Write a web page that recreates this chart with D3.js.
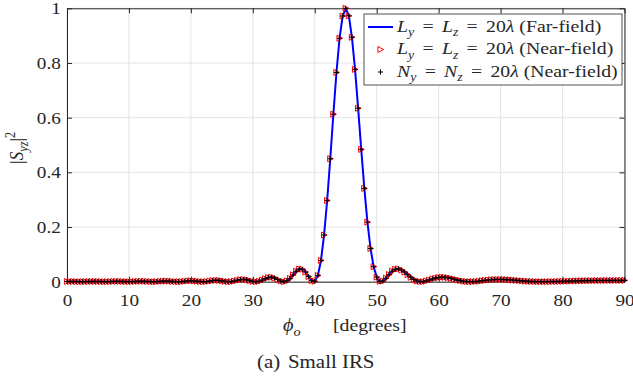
<!DOCTYPE html>
<html>
<head>
<meta charset="utf-8">
<script src="https://cdn.jsdelivr.net/npm/d3@7"></script>
<style>
  html, body { margin: 0; background: #fff; }
  svg { display: block; }
  svg text { font-family: "Liberation Serif", "Times New Roman", serif; fill: #262626; }
</style>
</head>
<body>
<svg id="chart" width="633" height="384"></svg>
<script>
// angle of the observation direction, degrees (sample points of the curves)
const phi = [
  0, 0.5, 1, 1.5, 2, 2.5, 3, 3.5, 4, 4.5, 5, 5.5, 6, 6.5, 7, 7.5, 8, 8.5, 9, 9.5,
  10, 10.5, 11, 11.5, 12, 12.5, 13, 13.5, 14, 14.5, 15, 15.5, 16, 16.5, 17, 17.5, 18, 18.5, 19, 19.5,
  20, 20.5, 21, 21.5, 22, 22.5, 23, 23.5, 24, 24.5, 25, 25.5, 26, 26.5, 27, 27.5, 28, 28.5, 29, 29.5,
  30, 30.5, 31, 31.5, 32, 32.5, 33, 33.5, 34, 34.5, 35, 35.5, 36, 36.5, 37, 37.5, 38, 38.5, 39, 39.5,
  40, 40.5, 41, 41.5, 42, 42.5, 43, 43.5, 44, 44.5, 45, 45.5, 46, 46.5, 47, 47.5, 48, 48.5, 49, 49.5,
  50, 50.5, 51, 51.5, 52, 52.5, 53, 53.5, 54, 54.5, 55, 55.5, 56, 56.5, 57, 57.5, 58, 58.5, 59, 59.5,
  60, 60.5, 61, 61.5, 62, 62.5, 63, 63.5, 64, 64.5, 65, 65.5, 66, 66.5, 67, 67.5, 68, 68.5, 69, 69.5,
  70, 70.5, 71, 71.5, 72, 72.5, 73, 73.5, 74, 74.5, 75, 75.5, 76, 76.5, 77, 77.5, 78, 78.5, 79, 79.5,
  80, 80.5, 81, 81.5, 82, 82.5, 83, 83.5, 84, 84.5, 85, 85.5, 86, 86.5, 87, 87.5, 88, 88.5, 89, 89.5,
  90
];

// |S_yz|^2, L_y = L_z = 20 lambda, far-field
const farField = [
  0.0008, 0.0009, 0.0007, 0.0004, 0.0001, 0.0000, 0.0003, 0.0007, 0.0011, 0.0011,
  0.0008, 0.0003, 0.0000, 0.0001, 0.0005, 0.0011, 0.0014, 0.0013, 0.0008, 0.0003,
  0.0000, 0.0003, 0.0009, 0.0015, 0.0018, 0.0015, 0.0009, 0.0002, 0.0000, 0.0004,
  0.0013, 0.0021, 0.0024, 0.0020, 0.0011, 0.0002, 0.0000, 0.0006, 0.0018, 0.0029,
  0.0034, 0.0028, 0.0016, 0.0004, 0.0000, 0.0007, 0.0023, 0.0040, 0.0050, 0.0046,
  0.0031, 0.0012, 0.0001, 0.0005, 0.0025, 0.0053, 0.0077, 0.0083, 0.0069, 0.0040,
  0.0012, 0.0000, 0.0016, 0.0058, 0.0111, 0.0153, 0.0164, 0.0137, 0.0083, 0.0026,
  0.0000, 0.0029, 0.0119, 0.0251, 0.0382, 0.0463, 0.0456, 0.0352, 0.0187, 0.0038,
  0.0013, 0.0229, 0.0777, 0.1706, 0.2970, 0.4497, 0.6125, 0.7653, 0.8904, 0.9718,
  1.0000, 0.9725, 0.8940, 0.7766, 0.6342, 0.4838, 0.3412, 0.2179, 0.1216, 0.0550,
  0.0165, 0.0011, 0.0023, 0.0129, 0.0265, 0.0385, 0.0456, 0.0470, 0.0430, 0.0352,
  0.0255, 0.0159, 0.0079, 0.0026, 0.0002, 0.0005, 0.0028, 0.0063, 0.0101, 0.0133,
  0.0156, 0.0165, 0.0160, 0.0144, 0.0120, 0.0092, 0.0063, 0.0038, 0.0018, 0.0005,
  0.0000, 0.0002, 0.0009, 0.0021, 0.0034, 0.0048, 0.0061, 0.0072, 0.0079, 0.0083,
  0.0083, 0.0080, 0.0075, 0.0067, 0.0058, 0.0049, 0.0039, 0.0030, 0.0022, 0.0014,
  0.0009, 0.0005, 0.0002, 0.0000, 0.0000, 0.0001, 0.0003, 0.0005, 0.0008, 0.0011,
  0.0014, 0.0018, 0.0021, 0.0025, 0.0028, 0.0030, 0.0033, 0.0035, 0.0037, 0.0039,
  0.0041, 0.0042, 0.0043, 0.0044, 0.0045, 0.0046, 0.0046, 0.0047, 0.0047, 0.0047,
  0.0047
];

// the two near-field runs lie on the far-field curve at every sample
const nearFieldL = farField;
const nearFieldN = farField;

const xTicks = [0, 10, 20, 30, 40, 50, 60, 70, 80, 90];
const yTicks = [0, 0.2, 0.4, 0.6, 0.8, 1];
const yTickLabels = ['0', '0.2', '0.4', '0.6', '0.8', '1'];

const legendRows = [
  [['L', 'i'], ['y', 'sub'], ['=', 'op'], ['L', 'i'], ['z', 'sub'], ['=', 'op'], ['20', 'after'], ['λ', 'i'], [' (Far-field)']],
  [['L', 'i'], ['y', 'sub'], ['=', 'op'], ['L', 'i'], ['z', 'sub'], ['=', 'op'], ['20', 'after'], ['λ', 'i'], [' (Near-field)']],
  [['N', 'i'], ['y', 'sub'], ['=', 'op'], ['N', 'i'], ['z', 'sub'], ['=', 'op'], ['20', 'after'], ['λ', 'i'], [' (Near-field)']],
];

const sx = 1.13; // glyphs in the picture are a little wide
const axisColor = '#262626';

const svg = d3.select('#chart');
svg.append('rect').attr('width', 633).attr('height', 384).attr('fill', '#fff');

const area = { left: 67, right: 624.5, top: 8.3, bottom: 281.7 };

const xScale = d3.scaleLinear().domain([0, 90]).range([area.left, area.right]);
const yScale = d3.scaleLinear().domain([0, 1]).range([area.bottom, area.top]);

// grid
const grid = svg.append('g').attr('stroke', '#e4e4e4').attr('stroke-width', 1);
grid.selectAll('.gx')
  .data(xTicks)
  .join('line')
  .attr('x1', (d) => xScale(d))
  .attr('x2', (d) => xScale(d))
  .attr('y1', area.top)
  .attr('y2', area.bottom);
grid.selectAll('.gy')
  .data(yTicks)
  .join('line')
  .attr('x1', area.left)
  .attr('x2', area.right)
  .attr('y1', (d) => yScale(d))
  .attr('y2', (d) => yScale(d));

// axes, ticks pointing inward
const xAxis = svg.append('g')
  .attr('transform', `translate(0, ${area.bottom})`)
  .call(d3.axisBottom(xScale).tickValues(xTicks).tickSizeInner(-5).tickSizeOuter(0).tickPadding(12.5));
const yAxis = svg.append('g')
  .attr('transform', `translate(${area.left}, 0)`)
  .call(d3.axisLeft(yScale).tickValues(yTicks).tickSizeInner(-5).tickSizeOuter(0).tickPadding(5.5)
    .tickFormat((d, i) => yTickLabels[i]));
svg.append('g')
  .attr('transform', `translate(0, ${area.top})`)
  .call(d3.axisTop(xScale).tickValues(xTicks).tickSizeInner(-5).tickSizeOuter(0).tickFormat(''));
svg.append('g')
  .attr('transform', `translate(${area.right}, 0)`)
  .call(d3.axisRight(yScale).tickValues(yTicks).tickSizeInner(-5).tickSizeOuter(0).tickFormat(''));

svg.selectAll('.domain, .tick line').attr('stroke', axisColor);
svg.selectAll('.tick text')
  .attr('font-size', 17)
  .attr('fill', axisColor);
xAxis.selectAll('.tick text').attr('transform', `scale(${sx},1)`);
yAxis.selectAll('.tick text').attr('transform', `scale(${sx},1)`);

// curves
const points = (vals) => phi.map((p, i) => [p, vals[i]]);

svg.append('path')
  .datum(points(farField))
  .attr('fill', 'none')
  .attr('stroke', '#0000ff')
  .attr('stroke-width', 2)
  .attr('stroke-linejoin', 'round')
  .attr('d', d3.line().x((d) => xScale(d[0])).y((d) => yScale(d[1])));

const triPath = 'M-2.6,-3 L3,0 L-2.6,3 Z';
const plusPath = 'M-2.6,0 H2.6 M0,-2.6 V2.6';

svg.append('g')
  .selectAll('path')
  .data(points(nearFieldL))
  .join('path')
  .attr('transform', (d) => `translate(${xScale(d[0])},${yScale(d[1])})`)
  .attr('d', triPath)
  .attr('fill', 'none')
  .attr('stroke', '#ff0000')
  .attr('stroke-width', 1);

svg.append('g')
  .selectAll('path')
  .data(points(nearFieldN))
  .join('path')
  .attr('transform', (d) => `translate(${xScale(d[0])},${yScale(d[1])})`)
  .attr('d', plusPath)
  .attr('fill', 'none')
  .attr('stroke', '#000')
  .attr('stroke-width', 1);

// text with italic / subscript / superscript runs
function mathText(parent, x, y, parts, size, extra = '') {
  const t = parent.append('text')
    .attr('transform', `translate(${x},${y}) scale(${sx},1)${extra}`)
    .attr('font-size', size)
    .style('white-space', 'pre');
  let shift = 0;
  let prevOp = false;
  parts.forEach(([s, kind]) => {
    const ts = t.append('tspan').text(s);
    let target = 0;
    if (kind === 'i' || kind === 'sub') ts.attr('font-style', 'italic');
    if (kind === 'sub') { ts.attr('font-size', size * 0.7); target = size * 0.25; }
    if (kind === 'sup') { ts.attr('font-size', size * 0.7); target = -size * 0.42; }
    if (kind === 'op' || prevOp) ts.attr('dx', size * 0.42);
    prevOp = kind === 'op';
    if (target !== shift) { ts.attr('dy', target - shift); shift = target; }
  });
  return t;
}

// axis labels
mathText(svg, 283, 331, [['ϕ', 'i'], ['o', 'sub']], 18);
mathText(svg, 333, 331, [['[degrees]']], 17.5);
mathText(svg, 23, 148, [['|'], ['S', 'i'], ['yz', 'sub'], ['|'], ['2', 'sup']], 17.5, ' rotate(-90)')
  .attr('text-anchor', 'middle');

// legend
const legend = svg.append('g');
legend.append('rect')
  .attr('x', 364).attr('y', 14).attr('width', 258).attr('height', 71)
  .attr('fill', '#fff').attr('stroke', axisColor).attr('stroke-width', 0.8);
const rowY = [27, 49.5, 72];
legend.append('line')
  .attr('x1', 368).attr('x2', 393).attr('y1', rowY[0]).attr('y2', rowY[0])
  .attr('stroke', '#0000ff').attr('stroke-width', 2);
legend.append('path')
  .attr('transform', `translate(380.5,${rowY[1]})`)
  .attr('d', triPath).attr('fill', 'none').attr('stroke', '#ff0000');
legend.append('path')
  .attr('transform', `translate(380.5,${rowY[2]})`)
  .attr('d', plusPath).attr('fill', 'none').attr('stroke', '#000');
legendRows.forEach((parts, i) => {
  mathText(legend, 397, rowY[i] + 4.7, parts, 17.5);
});

// caption
mathText(svg, 257, 368, [['(a)']], 18.5);
mathText(svg, 288, 368, [['Small IRS']], 18.5);
</script>
</body>
</html>
